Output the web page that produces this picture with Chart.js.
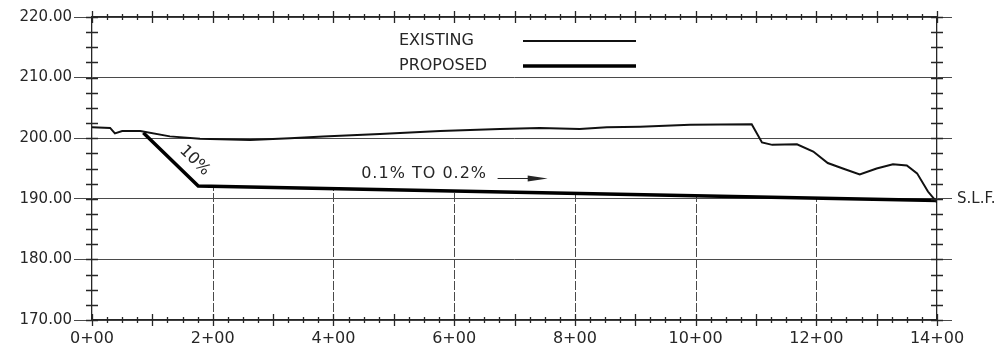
<!DOCTYPE html>
<html>
<head>
<meta charset="utf-8">
<script src="https://cdn.jsdelivr.net/npm/chart.js@4.4.0/dist/chart.umd.min.js"></script>
<style>
  html, body { margin: 0; padding: 0; background: #fff; }
  #wrap { width: 1008px; height: 353px; position: relative; }
</style>
</head>
<body>
<div id="wrap"><canvas id="profile"></canvas></div>
<script>
// stations in hundreds of feet (1 = 1+00), elevations in feet
const existingStations = [0, 0.30, 0.38, 0.50, 0.80, 1.29, 1.79, 2.62, 3.28, 3.83, 4.77, 5.77, 6.76, 7.42, 8.08, 8.53, 9.08, 9.91,
  10.93, 11.10, 11.27, 11.68, 11.95, 12.19, 12.44, 12.72, 13.00, 13.27, 13.50, 13.67, 13.85, 14.00];
const existingElevations = [201.8, 201.7, 200.8, 201.2, 201.2, 200.3, 199.9, 199.7, 200.0, 200.3, 200.7, 201.2, 201.5, 201.7, 201.5, 201.8, 201.9, 202.2,
  202.3, 199.3, 198.9, 199.0, 197.8, 195.9, 195.0, 194.0, 195.0, 195.7, 195.5, 194.2, 191.2, 189.4];
const proposedStations = [0.85, 1.76, 14.00];
const proposedElevations = [200.9, 192.1, 189.7];
const seriesLabels = ["EXISTING", "PROPOSED"];
const stationTicks = [0, 2, 4, 6, 8, 10, 12, 14];
const elevationTicks = [170, 180, 190, 200, 210, 220];
const slfElevation = 190;

const FONT = "'DejaVu Sans', sans-serif";
const INK = "#262626";
const GRID = "#4a4a4a";

const toPoints = (xs, ys) => xs.map((s, i) => ({ x: s, y: ys[i] }));

function proposedAt(s) {
  for (let i = 1; i < proposedStations.length; i++) {
    if (s <= proposedStations[i]) {
      const t = (s - proposedStations[i - 1]) / (proposedStations[i] - proposedStations[i - 1]);
      return proposedElevations[i - 1] + t * (proposedElevations[i] - proposedElevations[i - 1]);
    }
  }
  return proposedElevations[proposedElevations.length - 1];
}

// station grid lines only run below the proposed grade
const stationGrid = {
  id: "stationGrid",
  beforeDatasetsDraw(chart) {
    const { ctx, chartArea: a, scales: { x, y } } = chart;
    ctx.save();
    ctx.strokeStyle = GRID;
    ctx.lineWidth = 1;
    ctx.setLineDash([9, 2]);
    stationTicks.forEach(s => {
      if (s <= x.min || s >= x.max) return;
      const px = Math.round(x.getPixelForValue(s)) + 0.5;
      ctx.beginPath();
      ctx.moveTo(px, a.bottom + 3);
      ctx.lineTo(px, y.getPixelForValue(proposedAt(s)));
      ctx.stroke();
    });
    ctx.restore();
  }
};

// little "+" ticks crossing the frame
const crossTicks = {
  id: "crossTicks",
  afterDatasetsDraw(chart) {
    const { ctx, chartArea: a, scales: { x, y } } = chart;
    ctx.save();
    ctx.strokeStyle = INK;
    ctx.lineWidth = 1.3;
    ctx.beginPath();
    for (let s = x.min; s <= x.max + 0.001; s += 0.25) {
      const px = Math.round(x.getPixelForValue(s)) + 0.5;
      const h = Math.abs(s - Math.round(s)) < 0.01 ? 6 : 3;
      ctx.moveTo(px, a.top - h); ctx.lineTo(px, a.top + h);
      ctx.moveTo(px, a.bottom - h); ctx.lineTo(px, a.bottom + h);
    }
    for (let e = y.min; e <= y.max + 0.001; e += 2.5) {
      const py = Math.round(y.getPixelForValue(e)) + 0.5;
      ctx.moveTo(a.left - 6, py); ctx.lineTo(a.left + 6, py);
      ctx.moveTo(a.right - 6, py); ctx.lineTo(a.right + 6, py);
    }
    ctx.stroke();
    ctx.restore();
  }
};

// text then line, like the drawing
const sideLegend = {
  id: "sideLegend",
  afterDraw(chart) {
    const ctx = chart.ctx;
    ctx.save();
    ctx.font = "16px " + FONT;
    ctx.fillStyle = INK;
    ctx.textBaseline = "middle";
    chart.data.datasets.forEach((ds, i) => {
      const yy = 41 + i * 25;
      ctx.fillText(ds.label, 399, yy);
      ctx.strokeStyle = ds.borderColor;
      ctx.lineWidth = ds.borderWidth;
      ctx.beginPath();
      ctx.moveTo(523, yy);
      ctx.lineTo(636, yy);
      ctx.stroke();
    });
    ctx.restore();
  }
};

const gradeNotes = {
  id: "gradeNotes",
  afterDraw(chart) {
    const { ctx, scales: { x, y } } = chart;
    ctx.save();
    ctx.fillStyle = INK;
    ctx.font = "16px " + FONT;
    ctx.textBaseline = "middle";

    // 10% along the steep drop
    const ang = Math.atan2(
      y.getPixelForValue(proposedElevations[1]) - y.getPixelForValue(proposedElevations[0]),
      x.getPixelForValue(proposedStations[1]) - x.getPixelForValue(proposedStations[0]));
    ctx.save();
    ctx.translate(x.getPixelForValue(1.70), y.getPixelForValue(196.3));
    ctx.rotate(ang);
    ctx.textAlign = "center";
    ctx.fillText("10%", 0, 0);
    ctx.restore();

    ctx.letterSpacing = "1px";
    ctx.textAlign = "left";
    ctx.fillText("0.1% TO 0.2%", x.getPixelForValue(4.46), y.getPixelForValue(194.1));
    ctx.letterSpacing = "0px";

    const ay = Math.round(y.getPixelForValue(193.5)) + 0.5;
    const x0 = x.getPixelForValue(6.72), x1 = x.getPixelForValue(7.55);
    ctx.strokeStyle = INK;
    ctx.lineWidth = 1.2;
    ctx.beginPath();
    ctx.moveTo(x0, ay); ctx.lineTo(x1 - 10, ay);
    ctx.stroke();
    ctx.beginPath();
    ctx.moveTo(x1, ay);
    ctx.lineTo(x1 - 20, ay - 3);
    ctx.lineTo(x1 - 20, ay + 3);
    ctx.closePath();
    ctx.fill();
    ctx.restore();
  }
};

new Chart(document.getElementById("profile"), {
  type: "line",
  data: {
    datasets: [
      {
        label: seriesLabels[0],
        data: toPoints(existingStations, existingElevations),
        borderColor: "#111",
        borderWidth: 2,
        pointRadius: 0,
        tension: 0,
        xAxisID: "x",
        yAxisID: "y",
      },
      {
        label: seriesLabels[1],
        data: toPoints(proposedStations, proposedElevations),
        borderColor: "#000",
        borderWidth: 3.5,
        pointRadius: 0,
        tension: 0,
        xAxisID: "x",
        yAxisID: "y",
      },
    ],
  },
  options: {
    responsive: true,
    maintainAspectRatio: false,
    animation: false,
    layout: { padding: 0 },
    plugins: {
      legend: { display: false },
      tooltip: { enabled: false },
    },
    scales: {
      x: {
        type: "linear",
        position: "bottom",
        min: 0,
        max: 14,
        afterBuildTicks: s => { s.ticks = stationTicks.map(v => ({ value: v })); },
        afterFit: s => { s.height = 33; },
        ticks: {
          callback: v => v + "+00",
          font: { family: FONT, size: 16 },
          color: INK,
          padding: 9,
          maxRotation: 0,
        },
        grid: { drawOnChartArea: false, drawTicks: false },
        border: { display: true, color: INK, width: 1.3 },
      },
      xTop: {
        type: "linear",
        position: "top",
        min: 0,
        max: 14,
        ticks: { display: false },
        afterFit: s => { s.height = 17; },
        grid: { drawOnChartArea: false, drawTicks: false },
        border: { display: true, color: INK, width: 1.3 },
      },
      y: {
        type: "linear",
        position: "left",
        min: 170,
        max: 220,
        afterBuildTicks: s => { s.ticks = elevationTicks.map(v => ({ value: v })); },
        afterFit: s => { s.width = 92; },
        ticks: {
          callback: v => v.toFixed(2),
          font: { family: FONT, size: 15 },
          color: INK,
          padding: 2,
        },
        grid: { color: GRID, lineWidth: 1, tickLength: 18 },
        border: { display: true, color: INK, width: 1.3 },
      },
      yRight: {
        type: "linear",
        position: "right",
        min: 170,
        max: 220,
        afterBuildTicks: s => { s.ticks = elevationTicks.map(v => ({ value: v })); },
        afterFit: s => { s.width = 71; },
        ticks: {
          callback: v => (v === slfElevation ? "S.L.F." : ""),
          font: { family: FONT, size: 15 },
          color: INK,
          padding: 5,
        },
        grid: { drawOnChartArea: false, color: GRID, lineWidth: 1, tickLength: 15 },
        border: { display: true, color: INK, width: 1.3 },
      },
    },
  },
  plugins: [stationGrid, crossTicks, sideLegend, gradeNotes],
});
</script>
</body>
</html>
